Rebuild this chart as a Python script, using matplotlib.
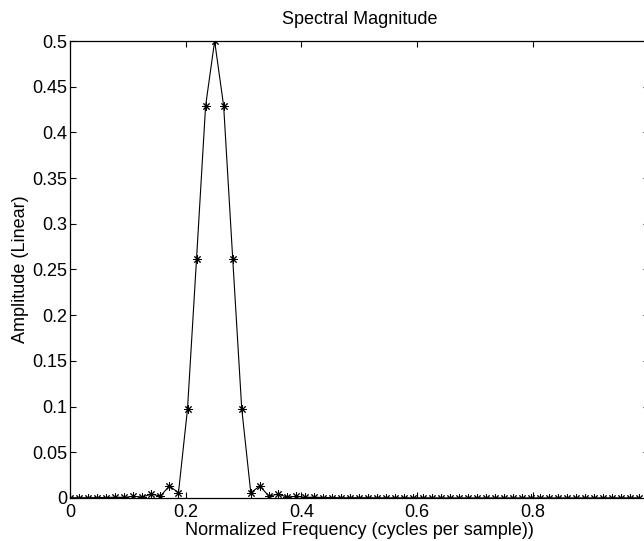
import numpy as np
import matplotlib
matplotlib.use("Agg")
import matplotlib.pyplot as plt

plt.rcParams['font.family'] = ['Liberation Sans', 'DejaVu Sans']

# 64-point DFT magnitude, bins k/64
n_bins = 64
star_mag = [0.0003, 0.0003, 0.0003, 0.0005, 0.0005, 0.0009, 0.0007, 0.0018,
            0.0011, 0.0042, 0.0021, 0.0131, 0.0058, 0.0975, 0.2619, 0.4288,
            0.5000, 0.4288, 0.2619, 0.0975, 0.0058, 0.0131, 0.0021, 0.0042,
            0.0011, 0.0018, 0.0007, 0.0009, 0.0005, 0.0005, 0.0003, 0.0003,
            0.0003, 0.0003, 0.0002, 0.0002, 0.0002, 0.0002, 0.0002, 0.0002,
            0.0002, 0.0001, 0.0001, 0.0001, 0.0001, 0.0001, 0.0001, 0.0001,
            0.0001, 0.0001, 0.0001, 0.0001, 0.0001, 0.0001, 0.0001, 0.0001,
            0.0001, 0.0001, 0.0001, 0.0002, 0.0002, 0.0002, 0.0002, 0.0002]

title = 'Spectral Magnitude'
xlabel = 'Normalized Frequency (cycles per sample))'
ylabel = 'Amplitude (Linear)'
xticks = [0, 0.2, 0.4, 0.6, 0.8]
xticklabels = ['0', '0.2', '0.4', '0.6', '0.8']
yticks = [0, 0.05, 0.1, 0.15, 0.2, 0.25, 0.3, 0.35, 0.4, 0.45, 0.5]
yticklabels = ['0', '0.05', '0.1', '0.15', '0.2', '0.25', '0.3', '0.35',
               '0.4', '0.45', '0.5']

f_star = np.arange(n_bins) / n_bins
mag_star = np.array(star_mag)

fig = plt.figure(figsize=(6.44, 5.41), dpi=100)
ax = fig.add_axes([0.1087, 0.0795, 0.8983, 0.8447])

# matlab style '-*' : asterisk markers joined by straight segments
ax.plot(f_star, mag_star, color='black', lw=0.8, marker=(8, 2, 0),
        markersize=6, markeredgewidth=0.7)

ax.set_xlim(0, 1)
ax.set_ylim(0, 0.5)
ax.set_xticks(xticks)
ax.set_xticklabels(xticklabels)
ax.set_yticks(yticks)
ax.set_yticklabels(yticklabels)
ax.tick_params(direction='in', length=4.5, width=0.8, top=True, right=True,
               labelsize=13)
ax.tick_params(axis='x', pad=4)
ax.tick_params(axis='y', pad=2)
for s in ax.spines.values():
    s.set_linewidth(0.9)

ax.set_title(title, fontsize=13, pad=12)
ax.set_xlabel(xlabel, fontsize=13, labelpad=1)
ax.set_ylabel(ylabel, fontsize=13, labelpad=2)

fig.savefig('out.png', dpi=100)
